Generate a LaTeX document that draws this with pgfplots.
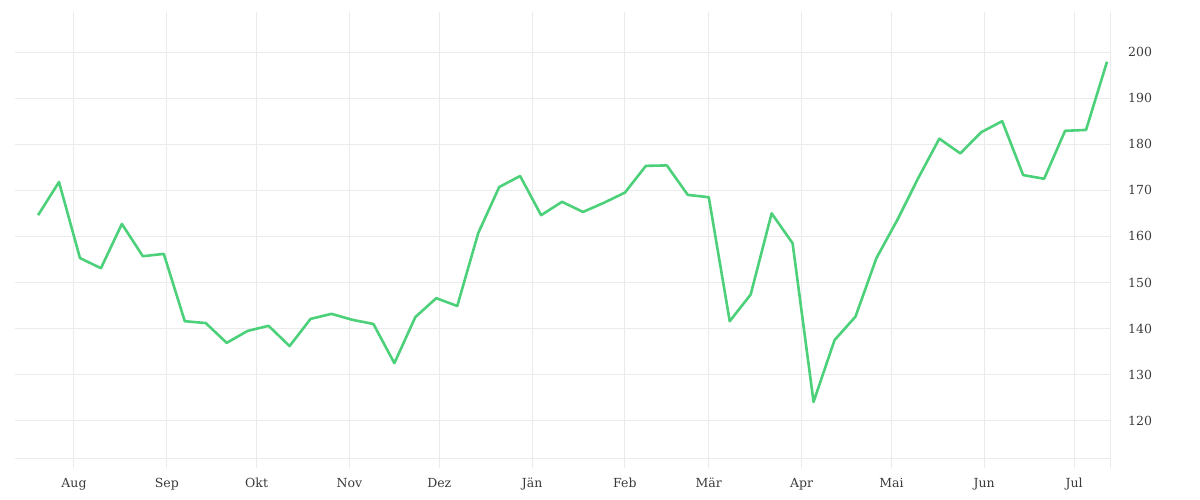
\documentclass[border=0pt]{standalone}
\usepackage{fontspec}
\setmainfont{DejaVu Serif}
\usepackage{pgfplots}
\usepackage{pgfplotstable}
\pgfplotsset{compat=1.18}

\definecolor{gridgray}{HTML}{EBEBEB}
\definecolor{labelgray}{HTML}{3A3A3A}
\definecolor{linegreen}{RGB}{76,209,122}

% days counted from 1 Aug
\pgfplotstableread{
day value
-12 164.6
-5 171.8
2 155.3
9 153.1
16 162.7
23 155.7
30 156.2
37 141.6
44 141.2
51 136.9
58 139.5
65 140.6
72 136.2
79 142.1
86 143.2
93 141.9
100 141.0
107 132.5
114 142.5
121 146.6
128 144.9
135 160.7
142 170.7
149 173.1
156 164.6
163 167.5
170 165.3
177 167.3
184 169.5
191 175.3
198 175.4
205 169.0
212 168.5
219 141.6
226 147.4
233 165.0
240 158.5
247 124.1
254 137.5
261 142.6
268 155.3
275 163.6
282 172.7
289 181.2
296 178.0
303 182.6
310 185.0
317 173.3
324 172.5
331 182.9
338 183.1
345 197.9
}\series

\begin{document}
\begin{tikzpicture}
\path[use as bounding box] (-15pt,-32pt) rectangle (1185pt,468pt);
\begin{axis}[
    at={(0,0)}, anchor=south west,
    scale only axis,
    width=1095pt, height=456pt,
    xmin=-19.7, xmax=346,
    ymin=109.76, ymax=208.68,
    axis line style={draw=none},
    major tick length=0pt,
    xtick={0,31,61,92,122,153,184,212,243,273,304,334},
    xticklabels={Aug,Sep,Okt,Nov,Dez,Jän,Feb,Mär,Apr,Mai,Jun,Jul},
    ytick={120,130,...,200},
    yticklabel pos=right,
    extra y ticks={111.9},
    extra y tick labels={},
    extra x ticks={346},
    extra x tick labels={},
    grid=major,
    major grid style={gridgray, line width=1pt},
    /pgf/number format/assume math mode=true,
    tick label style={font=\fontsize{12.5}{14}\selectfont, text=labelgray, inner sep=0pt},
    xticklabel style={anchor=north, text height=10pt, text depth=3pt, yshift=-9pt},
    yticklabel style={anchor=west, xshift=18pt},
]
\addplot[linegreen, line width=2.6pt, line join=round, mark=none] table[x=day, y=value] {\series};
\end{axis}
\end{tikzpicture}
\end{document}
